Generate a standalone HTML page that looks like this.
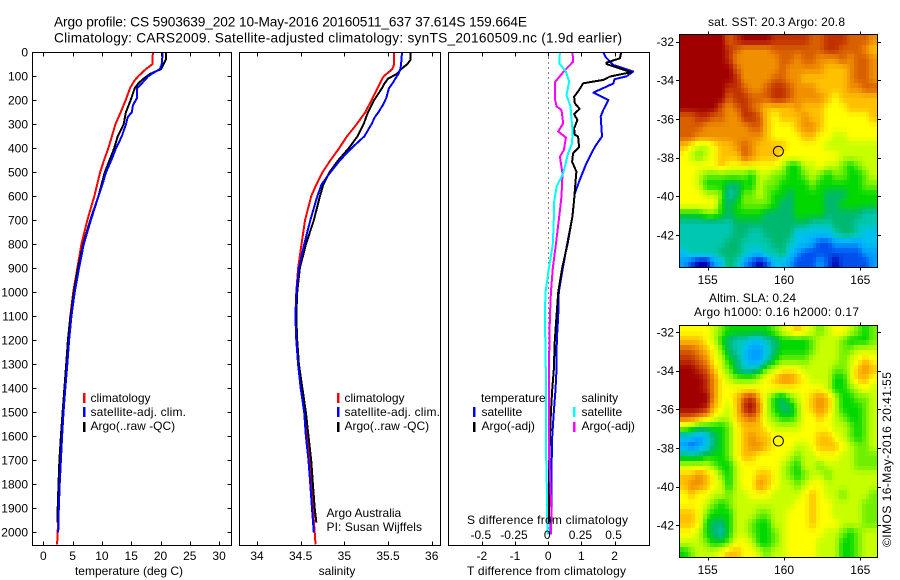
<!DOCTYPE html>
<html lang="en">
<head>
<meta charset="utf-8">
<title>Argo profile chart</title>
<style>
html,body{margin:0;padding:0;background:#fff;}
svg{display:block;}
text{font-family:"Liberation Sans",sans-serif;font-size:12px;fill:#000;}
.mid{text-anchor:middle;}
.ttl{font-size:13.7px;}
</style>
</head>
<body>
<svg id="chart" xmlns="http://www.w3.org/2000/svg" width="900" height="580" viewBox="0 0 900 580">
  <rect x="0" y="0" width="900" height="580" fill="#fff"/>
  <g id="marks"></g>
  <text class="ttl" x="54" y="26.5" textLength="473" lengthAdjust="spacing">Argo profile: CS 5903639_202 10-May-2016 20160511_637 37.614S 159.664E</text>
  <text class="ttl" x="54" y="42.5" textLength="568" lengthAdjust="spacing">Climatology: CARS2009. Satellite-adjusted climatology: synTS_20160509.nc (1.9d earlier)</text>

  <text class="mid" x="129" y="575">temperature (deg C)</text>
  <text class="mid" x="337" y="575">salinity</text>
  <text class="mid" x="546.5" y="575" textLength="159" lengthAdjust="spacing">T difference from climatology</text>
  <text class="mid" x="547.5" y="524" textLength="161" lengthAdjust="spacing">S difference from climatology</text>

  <g>
    <rect x="83" y="393" width="2.5" height="10" fill="#f00"/>
    <text x="90.5" y="402">climatology</text>
    <rect x="83" y="407" width="2.5" height="10" fill="#00f"/>
    <text x="90.5" y="416" textLength="95.5" lengthAdjust="spacing">satellite-adj. clim.</text>
    <rect x="83" y="422" width="2.5" height="10" fill="#000"/>
    <text x="90.5" y="430">Argo(..raw -QC)</text>
  </g>
  <g>
    <rect x="337" y="393" width="2.5" height="10" fill="#f00"/>
    <text x="344.5" y="402">climatology</text>
    <rect x="337" y="407" width="2.5" height="10" fill="#00f"/>
    <text x="344.5" y="416" textLength="95.5" lengthAdjust="spacing">satellite-adj. clim.</text>
    <rect x="337" y="422" width="2.5" height="10" fill="#000"/>
    <text x="344.5" y="430">Argo(..raw -QC)</text>
  </g>
  <text x="326.5" y="517">Argo Australia</text>
  <text x="326.5" y="531" textLength="95.5" lengthAdjust="spacing">PI: Susan Wijffels</text>

  <g>
    <text x="481" y="402">temperature</text>
    <rect x="473" y="407" width="2.5" height="10" fill="#00f"/>
    <text x="481.5" y="416">satellite</text>
    <rect x="473" y="422" width="2.5" height="10" fill="#000"/>
    <text x="481.5" y="430">Argo(-adj)</text>
    <text x="581.5" y="402">salinity</text>
    <rect x="573" y="407" width="2.5" height="10" fill="#0ff"/>
    <text x="581.5" y="416">satellite</text>
    <rect x="573" y="422" width="2.5" height="10" fill="#f0f"/>
    <text x="581.5" y="430">Argo(-adj)</text>
  </g>

  <text class="mid" x="776.5" y="26" textLength="137" lengthAdjust="spacing">sat. SST: 20.3 Argo: 20.8</text>
  <text class="mid" x="752.5" y="302" textLength="87" lengthAdjust="spacing">Altim. SLA: 0.24</text>
  <text class="mid" x="776.5" y="316" textLength="165" lengthAdjust="spacing">Argo h1000: 0.16 h2000: 0.17</text>
  <text class="mid" transform="translate(891,459.5) rotate(-90)" x="0" y="0" textLength="175" lengthAdjust="spacing">©IMOS 16-May-2016 20:41:55</text>
</svg>
<script>
// ---------- profile data ----------
const depthTicks = [0,100,200,300,400,500,600,700,800,900,1000,1100,1200,1300,1400,1500,1600,1700,1800,1900,2000];
const tempTicks = [0,5,10,15,20,25,30];
const salTicks = [34,34.5,35,35.5,36];
const salTickLabels = ['34','34.5','35','35.5','36'];
const diffTTicks = [-2,-1,0,1,2];
const diffSTicks = [-0.5,-0.25,0,0.25,0.5];
const diffSTickLabels = ['-0.5','-0.25','0','0.25','0.5'];

const climDepth = [0,50,70,100,120,150,200,250,300,350,400,450,500,550,600,700,800,900,1000,1100,1200,1300,1400,1500,1600,1700,1800,1900,2000,2050];
const tempClim = [18.7,18.6,17.5,16.2,15.5,14.8,14.05,13.2,12.3,11.7,11.1,10.35,9.7,9.2,8.7,7.5,6.5,5.8,5.1,4.6,4.2,3.9,3.6,3.35,3.05,2.85,2.68,2.55,2.45,2.35];
const satDepth = [0,50,70,90,100,130,150,190,220,250,270,300,350,400,450,500,550,600,700,800,900,1000,1100,1200,1300,1400,1500,1600,1700,1800,1900,2000];
const tempSat = [20.4,20.2,19.9,18.5,17.9,16.8,16,16,15.3,15.1,14.4,14.1,13.4,12.4,11.6,10.7,10.1,9.4,8.1,6.9,6.1,5.35,4.8,4.4,4.1,3.75,3.45,3.2,3.0,2.8,2.65,2.55];
const argoTempDepth = [0,30,50,70,90,110,130,150,200,250,300,350,400,450,500,550,600,700,800,900,1000,1100,1200,1300,1400,1500,1600,1700,1800,1900,1960];
const tempArgo = [20.9,20.9,20.5,20.1,18.2,17.1,16.2,15.6,14.9,14.1,13.7,12.7,12.1,11.3,10.5,9.95,9.4,8.0,6.8,5.9,5.2,4.65,4.2,3.9,3.6,3.3,3.0,2.75,2.6,2.45,2.4];

const salClim = [35.57,35.57,35.55,35.45,35.42,35.38,35.31,35.24,35.14,35.03,34.94,34.84,34.75,34.68,34.62,34.55,34.51,34.47,34.45,34.44,34.45,34.47,34.51,34.55,34.57,34.6,34.62,34.64,34.66,34.67];
const salSat = [35.66,35.65,35.64,35.62,35.6,35.55,35.51,35.48,35.44,35.39,35.35,35.31,35.23,35.08,34.95,34.84,34.74,34.69,34.61,34.54,34.48,34.45,34.44,34.45,34.47,34.5,34.54,34.56,34.59,34.61,34.63,34.65];
const salArgo = [35.76,35.76,35.72,35.65,35.6,35.5,35.46,35.43,35.34,35.27,35.22,35.15,35.05,34.93,34.83,34.76,34.72,34.65,34.56,34.49,34.46,34.45,34.46,34.48,34.52,34.56,34.59,34.62,34.64,34.66,34.68];

const diffTSatDepth = [0,20,53,80,100,112,130,168,199,240,268,351,393,462,532,588,685,800,900,1000,1100,1200,1323,1406,1500,1603,1740,1920,2000];
const diffTSat = [1.66,1.73,1.96,2.56,2.36,2.0,1.96,1.36,1.81,1.66,1.58,1.62,1.41,1.15,0.95,0.8,0.73,0.57,0.44,0.32,0.3,0.26,0.25,0.22,0.17,0.12,0.1,0.1,0.06];
const diffTArgoDepth = [0,25,43,49,83,101,115,129,157,185,212,236,257,282,317,344,351,396,421,456,497,546,615,685,800,900,1000,1100,1200,1323,1406,1500,1740,1960];
const diffTArgo = [2.2,2.16,1.76,1.76,2.5,1.86,1.66,1.05,0.93,0.78,0.8,0.95,0.78,0.88,0.78,0.8,0.9,0.93,0.75,0.72,0.85,0.82,0.78,0.73,0.58,0.42,0.3,0.25,0.2,0.17,0.12,0.08,0.02,0.03];
const diffSArgoDepth = [0,39,74,125,192,226,240,296,330,355,407,435,504,601,685,800,900,1000,1100,1323,1650,1920,2010];
const diffSArgo = [0.183,0.188,0.126,0.05,0.05,0.063,0.1,0.113,0.075,0.133,0.118,0.088,0.108,0.1,0.083,0.058,0.035,0.02,0.013,0.005,0.005,0.025,0.02];
const diffSSatDepth = [0,46,80,122,178,226,324,379,421,504,560,629,685,800,900,1000,1100,1323,1650,1740,2010];
const diffSSat = [0.088,0.083,0.133,0.158,0.138,0.168,0.183,0.18,0.15,0.113,0.063,0.043,0.043,0.035,0.005,-0.02,-0.025,-0.018,-0.018,-0.012,-0.006];

// ---------- map data ----------
const mapLonTicks = [155,160,165];
const mapLatTicks = [-32,-34,-36,-38,-40,-42];
const floatLon = 159.664;
const floatLat = -37.614;
const colourScale = ['#0000b0','#0050f0','#00a0ff','#00c0f0','#00c8b0','#00b870','#00d800','#70f000','#c8ff00','#ffff00','#ffc000','#f09000','#d86000','#c03000','#a00000'];

const sstLevels = [
[14,14,14,14,14,14,12,13,14,14,14,14,13,13,13,13,13,12,12,13,13,13,12,12,12,11],
[14,14,14,14,14,14,13,12,11,11,11,11,12,12,12,12,12,12,12,13,13,12,12,12,11,10],
[14,14,14,14,14,14,13,11,11,11,11,11,11,12,12,11,12,12,11,11,11,12,11,12,12,11],
[14,14,14,14,14,14,14,12,11,11,11,11,11,12,11,11,11,11,11,10,10,10,11,12,12,11],
[14,14,14,14,14,14,14,13,11,11,11,11,12,12,11,11,10,10,10,10,10,10,11,12,12,11],
[14,14,14,14,14,14,13,13,12,11,11,12,13,13,12,11,11,11,10,10,10,10,11,11,12,12],
[14,14,14,14,14,14,12,13,13,12,12,12,13,13,12,11,11,11,11,10,9,10,10,10,10,10],
[14,14,14,14,14,12,11,12,13,12,11,10,10,10,10,11,10,10,10,9,9,9,10,10,10,10],
[12,12,13,13,12,12,11,11,13,13,12,10,9,10,10,10,11,10,10,9,9,9,9,9,9,10],
[12,12,12,11,11,11,11,11,11,12,12,10,9,9,9,10,11,11,10,9,9,9,9,9,9,9],
[12,12,11,11,11,11,11,11,11,11,11,10,9,9,9,9,10,10,9,9,8,8,9,9,9,9],
[10,9,8,8,9,10,10,11,12,11,10,10,10,10,9,9,9,9,9,8,8,8,8,8,8,8],
[9,8,7,8,9,10,10,10,12,11,10,10,10,9,9,9,9,9,9,9,9,8,8,8,8,8],
[9,9,9,9,9,10,9,9,9,9,9,9,9,8,6,6,8,8,9,8,8,7,6,7,8,8],
[9,9,8,7,7,7,7,7,7,6,8,8,7,7,6,6,7,8,7,6,7,7,6,6,7,8],
[9,9,8,6,6,6,5,5,6,6,8,7,7,6,6,6,6,7,6,6,6,6,6,6,7,7],
[9,9,9,8,8,7,4,5,7,7,8,7,6,6,5,6,6,6,6,5,5,5,6,6,6,6],
[9,9,9,9,9,6,5,6,7,7,7,7,6,5,5,6,6,6,6,5,5,6,6,6,6,6],
[6,6,6,7,7,6,5,6,6,6,6,5,5,5,5,6,6,6,6,5,5,5,5,5,4,4],
[4,4,4,4,4,4,4,5,5,5,5,5,5,5,5,5,5,4,4,4,5,5,5,4,4,4],
[4,4,4,4,4,4,4,5,5,4,4,5,5,5,5,3,3,3,3,3,4,5,5,4,3,3],
[4,4,4,4,4,4,5,5,4,4,4,4,5,5,4,3,3,2,1,1,2,2,2,2,3,3],
[3,4,4,4,4,5,5,5,4,3,3,4,4,5,3,2,1,1,1,1,1,1,1,1,2,2],
[2,1,0,0,2,3,5,4,2,1,0,1,3,3,2,1,1,1,2,1,0,1,1,1,1,2]
];

const slaLevels = [
[9,9,9,9,8,7,6,6,6,6,6,6,7,8,9,10,9,8,7,8,9,9,8,7,6,7],
[10,10,10,9,8,6,5,4,4,3,3,4,5,6,6,6,6,7,8,8,8,7,6,6,6,7],
[12,12,11,10,9,7,5,4,3,2,2,3,5,6,6,6,6,7,8,8,8,7,7,8,8,8],
[13,13,12,11,9,8,6,5,3,2,2,4,6,7,7,7,7,8,8,8,8,7,8,9,10,9],
[14,14,13,12,10,8,7,5,4,4,5,7,8,9,9,9,8,8,8,8,7,7,8,10,11,10],
[14,14,14,13,11,9,8,7,7,7,8,9,10,11,11,10,9,8,8,8,6,6,8,10,10,9],
[14,14,14,13,11,9,9,9,9,9,9,9,9,9,9,9,9,9,9,8,6,6,7,8,9,8],
[14,14,14,14,11,9,9,10,12,13,10,8,6,5,7,8,9,10,11,10,8,6,6,7,7,8],
[14,14,14,13,10,9,8,10,13,14,11,8,6,5,5,7,9,10,11,10,8,6,6,6,7,8],
[12,12,11,10,9,8,8,10,11,12,10,8,7,6,6,7,9,9,10,9,8,7,6,6,7,8],
[8,7,6,6,6,6,7,9,10,10,10,9,8,8,8,8,9,9,9,9,8,8,7,6,7,8],
[3,3,2,3,5,6,7,9,10,11,10,10,9,9,9,9,9,9,10,10,9,8,7,6,7,8],
[2,1,2,3,5,6,7,9,10,11,11,10,9,9,9,8,8,9,10,10,10,9,8,7,7,8],
[5,5,5,6,6,6,7,9,10,10,9,9,9,9,8,7,8,8,9,9,9,8,8,7,7,7],
[8,8,8,8,7,6,6,8,9,9,9,9,9,8,7,6,8,8,7,8,8,8,8,7,7,7],
[10,10,11,10,9,7,6,8,9,9,10,10,9,8,7,6,7,8,8,7,8,8,8,8,8,8],
[10,11,11,10,9,8,6,8,9,9,11,10,9,8,8,7,8,9,9,8,8,8,8,8,8,8],
[9,10,9,9,8,8,7,8,8,9,9,9,8,8,8,8,9,10,9,8,8,7,8,8,8,7],
[9,9,9,8,7,6,7,8,8,8,8,8,8,8,8,9,9,10,9,9,8,8,8,8,7,7],
[10,10,9,7,6,6,6,8,8,8,7,7,8,8,9,9,9,10,9,9,8,8,8,8,7,7],
[10,10,9,6,5,5,6,8,8,7,6,6,8,8,9,9,9,10,9,9,9,8,8,8,7,7],
[9,9,8,6,5,4,6,8,8,7,6,6,7,8,9,9,9,9,9,8,8,7,6,7,8,8],
[8,8,8,7,6,6,7,9,9,8,6,6,7,8,9,9,9,9,8,8,8,6,6,7,8,8],
[6,7,8,8,8,9,10,10,9,9,8,7,8,8,9,9,9,9,8,8,8,6,6,7,8,8]
];

// ---------- axis functions ----------
const NS = 'http://www.w3.org/2000/svg';
const root = document.getElementById('marks');
const yDepth = d => 52.3 + 0.24 * d;
const xTemp = t => 43.3 + 5.86 * t;
const xSal = s => 257 + 87.35 * (s - 34);
const xDiffT = t => 548.2 + 33.2 * t;
const xDiffS = s => 548.2 + 132.8 * s;
const xLon = lon => 707.7 + 15.26 * (lon - 155);

function make(tag, parent) {
  const el = document.createElementNS(NS, tag);
  parent.appendChild(el);
  return el;
}
function group(name) {
  const g = make('g', root);
  
  
  return g;
}
function seg(parent, name, x1, y1, x2, y2) {
  const el = make('line', parent);
  
  
  el.setAttribute('x1', x1);
  el.setAttribute('y1', y1);
  el.setAttribute('x2', x2);
  el.setAttribute('y2', y2);
  el.setAttribute('stroke', '#000');
  el.setAttribute('stroke-width', 1);
  el.setAttribute('shape-rendering', 'crispEdges');
  return el;
}
function label(parent, name, txt, x, y, anchor) {
  const el = make('text', parent);
  
  
  el.setAttribute('x', x);
  el.setAttribute('y', y);
  el.setAttribute('text-anchor', anchor);
  el.textContent = txt;
  return el;
}
function frame(parent, name, x0, y0, x1, y1) {
  const el = make('rect', parent);
  
  
  el.setAttribute('x', x0);
  el.setAttribute('y', y0);
  el.setAttribute('width', x1 - x0);
  el.setAttribute('height', y1 - y0);
  el.setAttribute('fill', 'none');
  el.setAttribute('stroke', '#000');
  el.setAttribute('stroke-width', 1);
  el.setAttribute('shape-rendering', 'crispEdges');
}
function profile(parent, name, xs, ds, xf, colour, width) {
  const el = make('polyline', parent);
  
  
  el.setAttribute('points', xs.map((v, i) => xf(v).toFixed(1) + ',' + yDepth(ds[i]).toFixed(1)).join(' '));
  el.setAttribute('fill', 'none');
  el.setAttribute('stroke', colour);
  el.setAttribute('stroke-width', width);
  el.setAttribute('stroke-linejoin', 'round');
  el.setAttribute('shape-rendering', 'crispEdges');
}
const T = 52.5, B = 545.5;

function xAxis(parent, ticks, labels, xf, yLabel) {
  ticks.forEach((v, i) => {
    const x = Math.round(xf(v)) + 0.5;
    seg(parent, 'x-tick-top', x, T, x, T + 4);
    seg(parent, 'x-tick-bottom', x, B - 4, x, B);
    label(parent, 'x-tick-label', labels[i], xf(v), yLabel, 'middle');
  });
}

// ---------- temperature panel ----------
const p1 = group('temperature-panel');
profile(p1, 'temperature-climatology-line', tempClim, climDepth, xTemp, '#f00', 2);
profile(p1, 'temperature-argo-line', tempArgo, argoTempDepth, xTemp, '#000', 2);
profile(p1, 'temperature-satellite-line', tempSat, satDepth, xTemp, '#00f', 2);
frame(p1, 'temperature-plot-frame', 32.5, T, 231.5, B);
xAxis(p1, tempTicks, tempTicks.map(String), xTemp, 560);
depthTicks.forEach(d => {
  const y = Math.round(yDepth(d)) + 0.5;
  seg(p1, 'depth-tick-left', 32.5, y, 36.5, y);
  seg(p1, 'depth-tick-right', 227.5, y, 231.5, y);
  label(p1, 'depth-tick-label', String(d), 28, yDepth(d) + 4.3, 'end');
});

// ---------- salinity panel ----------
const p2 = group('salinity-panel');
profile(p2, 'salinity-climatology-line', salClim, climDepth, xSal, '#f00', 2);
profile(p2, 'salinity-argo-line', salArgo, argoTempDepth, xSal, '#000', 2);
profile(p2, 'salinity-satellite-line', salSat, satDepth, xSal, '#00f', 2);
frame(p2, 'salinity-plot-frame', 239.5, T, 440.5, B);
xAxis(p2, salTicks, salTickLabels, xSal, 560);

// ---------- difference panel ----------
const p3 = group('difference-panel');
const zero = make('line', p3);


zero.setAttribute('x1', 548.5);
zero.setAttribute('y1', T);
zero.setAttribute('x2', 548.5);
zero.setAttribute('y2', B);
zero.setAttribute('stroke', '#000');
zero.setAttribute('stroke-dasharray', '1 4');
zero.setAttribute('shape-rendering', 'crispEdges');
profile(p3, 'diff-t-satellite-line', diffTSat, diffTSatDepth, xDiffT, '#00f', 2);
profile(p3, 'diff-t-argo-line', diffTArgo, diffTArgoDepth, xDiffT, '#000', 2);
profile(p3, 'diff-s-argo-line', diffSArgo, diffSArgoDepth, xDiffS, '#f0f', 2);
profile(p3, 'diff-s-satellite-line', diffSSat, diffSSatDepth, xDiffS, '#0ff', 2);
frame(p3, 'difference-plot-frame', 448.5, T, 649.5, B);
xAxis(p3, diffTTicks, diffTTicks.map(String), xDiffT, 560);
diffSTicks.forEach((v, i) => {
  label(p3, 's-diff-tick-label', diffSTickLabels[i], xDiffS(v) - 1, 539, 'middle');
});

// ---------- maps ----------
function hexRgb(h) {
  return [parseInt(h.slice(1, 3), 16), parseInt(h.slice(3, 5), 16), parseInt(h.slice(5, 7), 16)];
}
const scaleRgb = colourScale.map(hexRgb);
function levelColour(v) {
  const i = Math.min(colourScale.length - 2, Math.floor(v));
  const f = v - i;
  const a = scaleRgb[i], b = scaleRgb[i + 1];
  return 'rgb(' + a.map((c, k) => Math.round(c + (b[k] - c) * f)).join(',') + ')';
}
function sample(levels, r, c) {
  const rows = levels.length, cols = levels[0].length;
  const rr = Math.max(0, Math.min(rows - 1, r));
  const cc = Math.max(0, Math.min(cols - 1, c));
  const r0 = Math.floor(rr), c0 = Math.floor(cc);
  const r1 = Math.min(rows - 1, r0 + 1), c1 = Math.min(cols - 1, c0 + 1);
  const fr = rr - r0, fc = cc - c0;
  const top = levels[r0][c0] * (1 - fc) + levels[r0][c1] * fc;
  const bot = levels[r1][c0] * (1 - fc) + levels[r1][c1] * fc;
  return top * (1 - fr) + bot * fr;
}
function drawMap(name, levels, top, bottom, yLat, xLabelY, circleY) {
  const g = group(name);
  const left = 680, right = 877;
  const sub = 2;
  const rows = levels.length * sub;
  const cols = levels[0].length * sub;
  for (let r = 0; r < rows; r++) {
    for (let c = 0; c < cols; c++) {
      const cell = make('rect', g);
      
      
      const x0 = Math.round(left + (right - left) * c / cols);
      const x1 = Math.round(left + (right - left) * (c + 1) / cols);
      const y0 = Math.round(top + (bottom - top) * r / rows);
      const y1 = Math.round(top + (bottom - top) * (r + 1) / rows);
      cell.setAttribute('x', x0);
      cell.setAttribute('y', y0);
      cell.setAttribute('width', x1 - x0);
      cell.setAttribute('height', y1 - y0);
      cell.setAttribute('fill', levelColour(sample(levels, (r + 0.5) / sub - 0.5, (c + 0.5) / sub - 0.5)));
    }
  }
  frame(g, name + '-frame', 679.5, top - 0.5, 877.5, bottom + 0.5);
  mapLonTicks.forEach(lon => {
    const x = Math.round(xLon(lon)) + 0.5;
    seg(g, 'lon-tick-top', x, top - 3.5, x, top);
    seg(g, 'lon-tick-bottom', x, bottom, x, bottom + 3.5);
    label(g, 'lon-tick-label', String(lon), xLon(lon), xLabelY, 'middle');
  });
  mapLatTicks.forEach(lat => {
    const y = Math.round(yLat(lat)) + 0.5;
    seg(g, 'lat-tick-left', 676, y, 679.5, y);
    seg(g, 'lat-tick-right', 877.5, y, 881, y);
    label(g, 'lat-tick-label', String(lat), 674, yLat(lat) + 4.3, 'end');
  });
  const circle = make('circle', g);
  
  
  circle.setAttribute('cx', xLon(floatLon) - 0.5);
  circle.setAttribute('cy', circleY(floatLat));
  circle.setAttribute('r', 5);
  circle.setAttribute('fill', 'none');
  circle.setAttribute('stroke', '#000');
  circle.setAttribute('stroke-width', 1);
}
const ySst = lat => 41.7 + 19.33 * (-32 - lat);
const ySla = lat => 332 + 19.33 * (-32 - lat);
drawMap('sst-map', sstLevels, 35, 267, ySst, 284, lat => ySst(lat) + 1);
drawMap('sla-map', slaLevels, 326, 557, ySla, 574, lat => ySla(lat) + 0.5);
</script>
</body>
</html>
